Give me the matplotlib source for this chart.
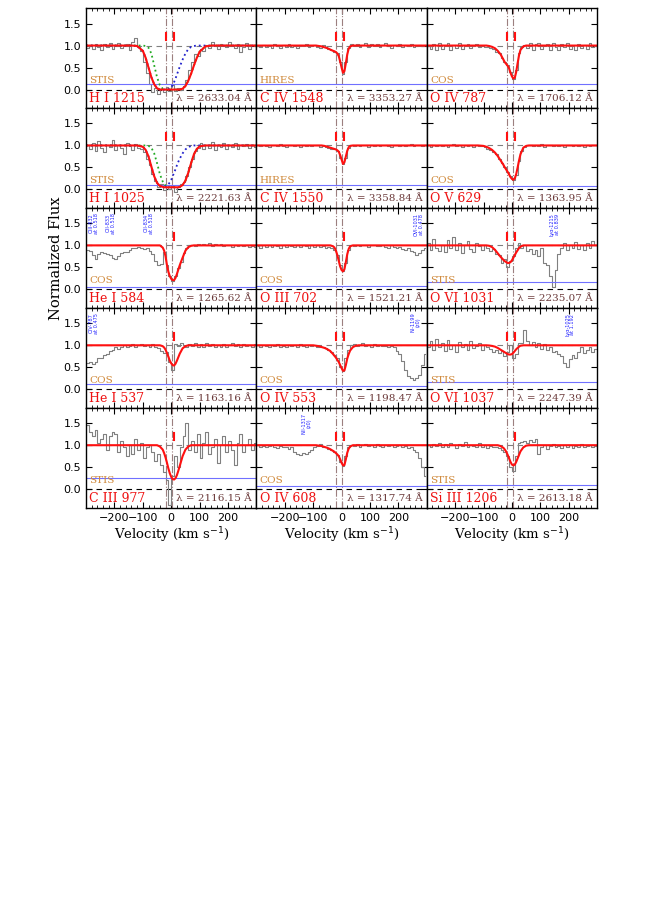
import numpy as np
import matplotlib
matplotlib.use("Agg")
from matplotlib import pyplot as plt
from matplotlib.ticker import MultipleLocator

### (1) data ###

ions = ["H I 1215", "C IV 1548", "O IV 787",
        "H I 1025", "C IV 1550", "O V 629",
        "He I 584", "O III 702", "O VI 1031",
        "He I 537", "O IV 553", "O VI 1037",
        "C III 977", "O IV 608", "Si III 1206"]
lambdas = ["2633.04", "3353.27", "1706.12",
           "2221.63", "3358.84", "1363.95",
           "1265.62", "1521.21", "2235.07",
           "1163.16", "1198.47", "2247.39",
           "2116.15", "1317.74", "2613.18"]
instruments = ["STIS", "HIRES", "COS",
               "STIS", "HIRES", "COS",
               "COS", "COS", "STIS",
               "COS", "COS", "STIS",
               "STIS", "COS", "STIS"]
error_level = [0.13, 0.12, 0.12,
               0.11, 0.10, 0.09,
               0.06, 0.08, 0.17,
               0.12, 0.08, 0.17,
               0.25, 0.08, 0.10]
# number of fitted components per panel (1 or 2)
n_comp = [2, 2, 2, 2, 2, 2, 1, 1, 2, 1, 2, 2, 1, 2, 1]
comp_line_v = [-19, 3]
comp_tick_v = [-19, 9]

# observed flux, 10 km/s bins from -300 to +300
flux = [
    [0.95, 1.02, 0.93, 1.04, 0.97, 0.90, 1.03, 0.96, 1.05, 0.92, 0.99, 1.06, 0.94, 0.98, 1.03, 0.91, 1.08, 1.18,
     0.97, 0.88, 0.62, 0.38, 0.12, -0.05, 0.04, -0.10, 0.02, -0.06, 0.05, -0.03, 0.10, -0.04, 0.03, -0.02, 0.08, 0.22,
     0.45, 0.62, 0.80, 0.76, 0.93, 0.88,
     1.02, 0.95, 1.07, 0.98, 0.93, 1.04, 1.00, 0.96, 1.08, 0.99, 0.94, 1.03, 0.85, 0.97, 1.05, 0.92, 1.01, 0.98],
    [1.0, 0.97, 1.02, 0.96, 1.01, 0.95, 1.03, 0.98, 0.94, 1.02, 0.97, 1.04, 0.96, 1.0, 0.95, 1.02, 0.98, 1.03, 0.96,
     0.99, 1.02, 0.97, 0.95, 1.01, 0.96, 0.93,
     0.9, 0.86, 0.82, 0.62, 0.36, 0.62, 0.95, 1.03,
     0.98, 1.04, 0.97, 1.02, 1.05, 0.96, 1.03, 0.99, 1.04, 0.97, 1.01, 1.05, 0.98, 0.95, 1.02, 0.99, 1.04, 0.97, 1.01,
     0.98, 1.03, 0.96, 1.0, 1.02, 0.98, 1.01],
    [1.0, 0.93, 1.04, 0.9, 1.05, 0.92, 0.98, 1.06, 0.9, 1.02, 0.95, 1.05, 0.93, 0.99, 1.04, 0.94, 0.98, 1.03, 0.96,
     1.0, 0.97,
     0.97, 0.95, 0.92, 0.85, 0.84, 0.72, 0.62, 0.55, 0.4, 0.25, 0.45, 0.82, 0.97,
     1.02, 0.95, 1.05, 0.9, 1.03, 1.06, 0.92, 0.98, 1.04, 0.91, 1.05, 0.96, 0.9, 1.03, 0.97, 1.06, 0.93, 1.0, 0.9,
     1.04, 0.95, 1.02, 0.92, 1.05, 0.97, 1.0],
    [1.0, 0.92, 1.05, 0.88, 1.1, 0.95, 0.85, 1.02, 0.97, 1.12, 0.9, 1.0, 0.95, 0.8, 1.05, 0.98, 0.9, 1.03,
     0.95, 0.92, 0.85, 0.7, 0.55, 0.35, 0.2, 0.05, 0.12, -0.02, 0.1, 0.02, 0.08, -0.05, 0.06, 0.12, 0.18, 0.3,
     0.52, 0.7, 0.88, 0.95, 1.05, 0.92,
     1.02, 0.95, 1.08, 0.9, 1.0, 0.97, 1.05, 0.93, 1.01, 0.96, 1.06, 0.92, 1.0, 0.98, 1.04, 0.95, 1.02, 0.97],
    [1.01, 0.98, 1.02, 0.99, 0.97, 1.02, 1.0, 0.98, 1.03, 0.99, 0.97, 1.01, 1.02, 0.98, 1.0, 0.97, 1.02, 0.99, 1.01,
     0.98, 1.0, 1.02, 0.97, 0.99, 0.96, 0.95,
     0.93, 0.92, 0.88, 0.72, 0.58, 0.72, 0.95, 1.01,
     0.99, 1.02, 0.98, 1.01, 1.0, 0.97, 1.02, 0.99, 1.01, 0.98, 1.0, 1.02, 0.99, 0.97, 1.01, 1.0, 0.98, 1.02, 0.99,
     1.01, 1.03, 0.98, 1.0, 1.02, 0.99, 1.01],
    [1.0, 0.97, 1.02, 0.98, 1.01, 0.99, 1.02, 0.97, 1.0, 1.03, 0.98, 1.0, 0.96, 1.02, 0.99, 1.01, 0.97, 1.0, 0.98,
     0.98, 0.96, 0.93, 0.9, 0.86, 0.8, 0.7, 0.6, 0.5, 0.4, 0.3, 0.22, 0.32, 0.65, 0.88, 0.97,
     1.0, 1.02, 0.98, 1.01, 0.99, 1.03, 0.97, 1.0, 1.02, 0.98, 1.01, 0.99, 1.02, 0.97, 1.0, 1.01, 0.98, 1.02, 0.99,
     1.0, 0.97, 1.02, 0.99, 1.01, 1.0],
    [0.9, 0.88, 0.78, 0.68, 0.8, 0.85, 0.83, 0.8, 0.78, 0.72, 0.7, 0.76, 0.82, 0.86, 0.84, 0.9, 0.93, 0.95, 0.97,
     0.94, 0.92, 0.95, 0.88, 0.8, 0.65, 0.55, 0.58, 0.85, 0.55, 0.3, 0.2, 0.3, 0.48, 0.62, 0.82, 0.95, 1.0,
     1.02, 0.98, 1.03, 1.0, 1.04, 1.02, 1.05, 0.99, 1.03, 1.01, 1.04, 0.98, 1.02, 1.0, 0.97, 1.02, 0.99, 1.01, 0.98,
     1.0, 0.97, 0.99, 0.96],
    [0.98, 0.95, 1.0, 0.97, 1.02, 0.96, 1.0, 0.98, 0.95, 1.01, 0.97, 1.02, 0.99, 0.96, 1.0, 0.97, 1.02, 0.98, 0.95,
     1.0, 0.97, 1.01, 0.96, 0.99, 0.94, 0.97, 0.95,
     0.9, 0.78, 0.55, 0.42, 0.6, 0.9, 1.02,
     0.99, 1.02, 0.98, 1.0, 1.01, 0.97, 1.0, 1.02, 0.98, 0.99, 1.01, 0.97, 0.95, 1.0, 0.96, 0.93, 0.97, 0.92, 0.9,
     0.94, 0.88, 0.85, 0.78, 0.82, 0.9, 0.93],
    [1.05, 0.9, 1.15, 0.95, 0.88, 1.0, 0.85, 1.12, 0.95, 1.2, 0.9, 1.05, 0.82, 1.0, 1.1, 0.92, 0.85, 1.05, 0.98,
     0.9, 1.02,
     0.95, 0.88, 0.92, 0.8, 0.78, 0.6, 0.7, 0.5, 0.65, 0.75, 0.95, 1.05,
     0.95, 1.0, 0.88, 0.92, 0.8, 0.9, 0.75, 0.95, 0.6, 0.55, 0.3, 0.05, 0.45, 0.8, 0.95, 1.05, 0.9, 1.02, 0.95,
     1.08, 0.92, 1.0, 0.9, 1.05, 0.95, 1.1, 1.0],
    [0.6, 0.62, 0.58, 0.63, 0.7, 0.72,
     0.78, 0.8, 0.86, 0.9, 0.95, 0.92, 0.97,
     1.0, 0.95, 0.98, 1.02, 0.97, 1.0, 1.03, 0.98, 1.01, 0.96, 1.02,
     0.97, 0.93, 0.86, 0.82, 0.85, 0.62, 0.45, 1.02, 0.98, 1.05,
     1.0, 0.96, 1.03, 0.98, 1.05, 0.97, 1.02, 0.95, 1.06, 0.99, 1.03, 0.96, 1.01, 0.97, 1.04, 0.95, 1.0, 1.05, 0.98,
     1.02, 0.96, 1.03, 0.99, 1.01, 0.97, 1.02],
    [1.0, 0.97, 1.01, 0.98, 0.96, 1.0, 0.98, 1.02, 0.97, 0.99, 0.96, 1.01, 0.98, 1.0, 0.97, 1.02, 0.99, 0.96, 1.0,
     0.98, 1.01, 0.97, 0.95, 0.96, 0.93,
     0.9, 0.85, 0.78, 0.7, 0.5, 0.42, 0.7, 0.9, 1.0,
     1.03, 0.98, 1.01, 1.05, 0.98, 1.0, 0.97, 1.02, 0.99, 1.01, 0.98, 0.99, 0.97, 0.98, 0.95, 0.88, 0.8, 0.65, 0.45,
     0.3, 0.25, 0.22, 0.25, 0.32, 0.55, 0.8],
    [0.95, 1.1, 0.9, 1.15, 0.95, 1.05, 0.88, 1.12, 0.92, 1.0, 0.85, 1.08, 0.95, 1.02, 0.9, 1.1, 0.93, 0.98, 1.05,
     0.9, 1.0,
     0.95, 0.92, 0.85, 0.9, 0.82, 0.88, 0.75, 0.85, 1.0, 0.7, 0.8, 1.05,
     1.05, 1.35, 1.1, 1.0, 1.08, 0.95, 1.05, 0.92, 1.02, 0.9, 0.95, 0.85, 0.88, 0.8, 0.75, 0.6, 0.5, 0.68, 0.78,
     0.72, 0.85, 0.95, 0.82, 0.9, 0.95, 0.85, 0.92],
    [1.45, 1.3, 1.2, 1.35, 1.05, 1.15, 1.25, 0.9, 1.2, 1.3, 1.25, 0.85, 1.1, 0.95, 0.75, 1.0, 0.8, 1.15, 0.9,
     1.05, 0.7, 0.95, 1.0, 0.85, 0.65,
     0.8, 0.55, 0.4, 0.2, -0.35, 0.3, 0.75, 0.5, 0.95,
     1.2, 1.5, 0.9, 1.1, 0.85, 1.25, 0.7, 1.05, 1.3, 0.8, 0.95, 1.15, 0.6, 1.0, 1.2, 0.85, 1.1, 0.9, 0.55, 1.05,
     1.25, 0.85, 1.0, 1.15, 0.9, 1.05],
    [1.0, 0.97, 0.99, 0.95, 0.98, 1.0, 0.96, 0.93, 0.98, 0.95, 0.97, 0.92, 0.96, 0.85, 0.8, 0.78, 0.82, 0.8, 0.85,
     0.9, 0.95, 0.98, 1.02, 0.97, 0.95,
     0.92, 0.88, 0.85, 0.78, 0.62, 0.52, 0.75, 0.95, 1.0,
     0.98, 1.02, 0.97, 1.0, 1.03, 0.98, 1.01, 0.97, 1.02, 0.99, 0.96, 1.0, 0.98, 1.01, 0.97, 0.99, 1.0, 0.96, 0.98,
     0.93, 0.95, 0.9, 0.85, 0.7, 0.5, 0.3],
    [1.0, 0.96, 1.03, 0.98, 1.05, 0.95, 1.02, 0.97, 1.06, 1.0, 0.94, 1.03, 0.98, 1.07, 0.96, 1.01, 0.99, 0.95, 1.04,
     0.97, 1.0, 0.93, 0.98, 0.95, 0.97,
     0.93, 0.9, 0.85, 0.75, 0.5, 0.42, 0.75, 1.05, 1.08,
     1.1, 1.05, 1.12, 1.08, 1.15, 0.8, 0.95, 1.0, 0.92, 0.98, 1.03, 0.95, 0.98, 0.93, 1.01, 0.97, 1.0, 0.94, 0.99,
     0.96, 1.02, 0.95, 0.98, 1.0, 0.96, 0.99],
]

# model velocity grid and fitted profiles
model_v = [-300, -140, -120, -100, -90, -80, -70, -60, -50, -40, -30, -25, -20, -15, -10, -5, 0,
           5, 10, 15, 20, 25, 30, 40, 50, 60, 70, 80, 90, 100, 120, 140, 300]
model = [
    [1, 1, 0.99, 0.88, 0.72, 0.5, 0.28, 0.12, 0.03, 0, 0, 0, 0, 0, 0, 0, 0,
     0, 0, 0, 0, 0, 0, 0.02, 0.08, 0.2, 0.36, 0.55, 0.72, 0.86, 0.98, 1, 1],
    [1, 1, 1, 1, 1, 0.99, 0.98, 0.96, 0.94, 0.91, 0.88, 0.87, 0.85, 0.82, 0.76, 0.64, 0.5,
     0.38, 0.42, 0.6, 0.8, 0.93, 0.98, 1, 1, 1, 1, 1, 1, 1, 1, 1, 1],
    [1, 1, 1, 1, 1, 0.99, 0.97, 0.94, 0.88, 0.8, 0.68, 0.62, 0.58, 0.54, 0.48, 0.38, 0.3,
     0.25, 0.27, 0.4, 0.6, 0.78, 0.9, 0.98, 1, 1, 1, 1, 1, 1, 1, 1, 1],
    [1, 1, 1, 0.97, 0.9, 0.75, 0.52, 0.3, 0.15, 0.08, 0.06, 0.05, 0.05, 0.05, 0.05, 0.05, 0.05,
     0.05, 0.05, 0.05, 0.05, 0.05, 0.06, 0.1, 0.2, 0.38, 0.6, 0.8, 0.92, 0.98, 1, 1, 1],
    [1, 1, 1, 1, 1, 1, 1, 0.99, 0.97, 0.95, 0.93, 0.92, 0.91, 0.89, 0.86, 0.78, 0.68,
     0.58, 0.62, 0.75, 0.88, 0.96, 0.99, 1, 1, 1, 1, 1, 1, 1, 1, 1, 1],
    [1, 1, 1, 0.99, 0.97, 0.94, 0.9, 0.84, 0.76, 0.66, 0.56, 0.5, 0.45, 0.4, 0.34, 0.28, 0.24,
     0.22, 0.25, 0.35, 0.5, 0.66, 0.8, 0.95, 0.99, 1, 1, 1, 1, 1, 1, 1, 1],
    [1, 1, 1, 1, 1, 1, 1, 1, 1, 1, 0.95, 0.88, 0.75, 0.55, 0.4, 0.3, 0.24,
     0.21, 0.21, 0.26, 0.35, 0.45, 0.55, 0.72, 0.88, 0.96, 0.99, 1, 1, 1, 1, 1, 1],
    [1, 1, 1, 1, 1, 1, 1, 1, 1, 1, 0.98, 0.95, 0.88, 0.78, 0.65, 0.52, 0.44,
     0.41, 0.46, 0.62, 0.8, 0.92, 0.98, 1, 1, 1, 1, 1, 1, 1, 1, 1, 1],
    [1, 1, 1, 1, 1, 0.99, 0.96, 0.9, 0.82, 0.74, 0.67, 0.64, 0.62, 0.6, 0.6, 0.62, 0.66,
     0.72, 0.78, 0.84, 0.89, 0.94, 0.97, 1, 1, 1, 1, 1, 1, 1, 1, 1, 1],
    [1, 1, 1, 1, 1, 1, 1, 1, 1, 1, 0.98, 0.95, 0.9, 0.82, 0.74, 0.65, 0.59,
     0.55, 0.54, 0.58, 0.65, 0.73, 0.81, 0.93, 0.98, 1, 1, 1, 1, 1, 1, 1, 1],
    [1, 1, 1, 1, 0.99, 0.98, 0.96, 0.94, 0.91, 0.87, 0.8, 0.76, 0.72, 0.67, 0.62, 0.55, 0.48,
     0.42, 0.43, 0.55, 0.7, 0.8, 0.88, 0.96, 0.99, 1, 1, 1, 1, 1, 1, 1, 1],
    [1, 1, 1, 1, 1, 0.995, 0.985, 0.97, 0.94, 0.9, 0.86, 0.84, 0.82, 0.8, 0.79, 0.79, 0.8,
     0.83, 0.87, 0.91, 0.94, 0.97, 0.99, 1, 1, 1, 1, 1, 1, 1, 1, 1, 1],
    [1, 1, 1, 1, 1, 1, 1, 1, 1, 0.97, 0.9, 0.82, 0.72, 0.6, 0.47, 0.36, 0.28,
     0.23, 0.22, 0.25, 0.32, 0.42, 0.53, 0.75, 0.9, 0.97, 1, 1, 1, 1, 1, 1, 1],
    [1, 1, 1, 1, 1, 0.99, 0.98, 0.96, 0.94, 0.91, 0.87, 0.85, 0.82, 0.79, 0.75, 0.68, 0.6,
     0.54, 0.55, 0.68, 0.83, 0.92, 0.97, 1, 1, 1, 1, 1, 1, 1, 1, 1, 1],
    [1, 1, 1, 1, 1, 1, 1, 1, 1, 0.98, 0.94, 0.9, 0.85, 0.78, 0.7, 0.62, 0.56,
     0.54, 0.56, 0.62, 0.7, 0.78, 0.86, 0.95, 0.99, 1, 1, 1, 1, 1, 1, 1, 1],
]

# individual H I components (panel index -> curve)
hi_green = {
    0: [1, 1, 1, 1, 0.99, 0.95, 0.82, 0.55, 0.28, 0.1, 0.02, 0, 0, 0, 0, 0, 0,
        0, 0, 0, 0, 0, 0, 0.02, 0.08, 0.2, 0.36, 0.55, 0.72, 0.86, 0.98, 1, 1],
    3: [1, 1, 1, 1, 1, 0.99, 0.95, 0.82, 0.6, 0.35, 0.18, 0.12, 0.09, 0.07, 0.06, 0.05, 0.05,
        0.05, 0.05, 0.05, 0.05, 0.05, 0.06, 0.1, 0.2, 0.38, 0.6, 0.8, 0.92, 0.98, 1, 1, 1],
}
hi_blue = {
    0: [1, 1, 0.99, 0.88, 0.72, 0.5, 0.28, 0.12, 0.03, 0, 0, 0, 0, 0, 0.01, 0.02, 0.05,
        0.1, 0.17, 0.25, 0.34, 0.43, 0.52, 0.68, 0.82, 0.92, 0.97, 0.99, 1, 1, 1, 1, 1],
    3: [1, 1, 1, 0.97, 0.9, 0.75, 0.52, 0.3, 0.15, 0.08, 0.06, 0.06, 0.07, 0.09, 0.12, 0.16, 0.22,
        0.3, 0.38, 0.46, 0.55, 0.63, 0.7, 0.82, 0.91, 0.96, 0.99, 1, 1, 1, 1, 1, 1],
}

# blend identifications (panel, velocity, text)
blends = [
    (6, -272, "OIII-832\nat 0.518"),
    (6, -213, "OII-833\nat 0.518"),
    (6, -80, "OII-834\nat 0.518"),
    (7, 272, "OVI-1031\nat 0.478"),
    (8, 150, "Lyα-1215\nat 0.839"),
    (9, -272, "OIV-787\nat 0.475"),
    (10, 262, "NI-1199\n(z0)"),
    (11, 205, "Lyα-1025\nat 1.192"),
    (13, -122, "NII-1317\n(z0)"),
]

### (2) plot ###

serif = "DejaVu Serif"
plt.rcParams["font.family"] = "DejaVu Sans"

fig = plt.figure(figsize=(6.62, 9.05), dpi=100)
gs = fig.add_gridspec(5, 3, left=0.130, right=0.902, top=0.991, bottom=0.439,
                      hspace=0, wspace=0)

for k in range(15):
    row, col = divmod(k, 3)
    ax = fig.add_subplot(gs[row, col])
    f = np.array(flux[k])
    assert len(f) == 60, (k, len(f))
    v = -300 + 10 * (np.arange(len(f)) + 0.5)

    ax.axhline(0, color="k", ls="--", lw=0.8, dashes=(5, 4))
    ax.axhline(1, color="gray", ls="--", lw=0.8, dashes=(5, 4))
    for vl in comp_line_v:
        ax.axvline(vl, color="#9c7f7f", ls="-.", lw=0.8)

    ax.step(v, f, where="mid", color="#808080", lw=0.8)
    ax.plot([-300, 300], [error_level[k]] * 2, color="#7070ff", lw=0.8)
    if k in hi_green:
        ax.plot(model_v, hi_green[k], color="#22aa22", ls=":", lw=1.3)
        ax.plot(model_v, hi_blue[k], color="#2020cc", ls=":", lw=1.3)
    ax.plot(model_v, model[k], color="#ff1010", lw=1.5)

    ticks = comp_tick_v if n_comp[k] == 2 else comp_tick_v[1:]
    for tv in ticks:
        ax.plot([tv, tv], [1.12, 1.28], color="#ff1010", lw=1.5)

    ax.text(-288, -0.21, ions[k], color="#ee1111", fontsize=9, family=serif, va="center")
    ax.text(285, -0.21, "λ = %s Å" % lambdas[k], color="#6b3a3a", fontsize=7.5,
            family=serif, va="center", ha="right")
    ax.text(-288, 0.2, instruments[k], color="#d08a3c", fontsize=7.5, family=serif, va="center")

    for bk, bv, btxt in blends:
        if bk == k:
            ax.text(bv, 1.74, btxt, color="#2020ff", fontsize=3.6, rotation=90,
                    ha="center", va="top", linespacing=1.0)

    ax.set_xlim(-300, 300)
    ax.set_ylim(-0.42, 1.85)
    ax.xaxis.set_major_locator(MultipleLocator(100))
    ax.xaxis.set_minor_locator(MultipleLocator(20))
    ax.yaxis.set_major_locator(MultipleLocator(0.5))
    ax.tick_params(which="both", direction="in", top=True, right=True, labelsize=8)
    ax.tick_params(which="major", length=4, width=0.8)
    ax.tick_params(which="minor", length=2, width=0.6)
    ax.set_xticks([-200, -100, 0, 100, 200])
    ax.set_yticks([0.0, 0.5, 1.0, 1.5])
    for s in ax.spines.values():
        s.set_linewidth(1.0)
    if col != 0:
        ax.set_yticklabels([])
    if row != 4:
        ax.set_xticklabels([])
    else:
        ax.set_xlabel("Velocity (km s$^{-1}$)", family=serif, fontsize=9.5, labelpad=2)

fig.text(0.085, 0.715, "Normalized Flux", rotation=90, family=serif, fontsize=10.5,
         ha="center", va="center")

plt.savefig("out.png", dpi=100)
